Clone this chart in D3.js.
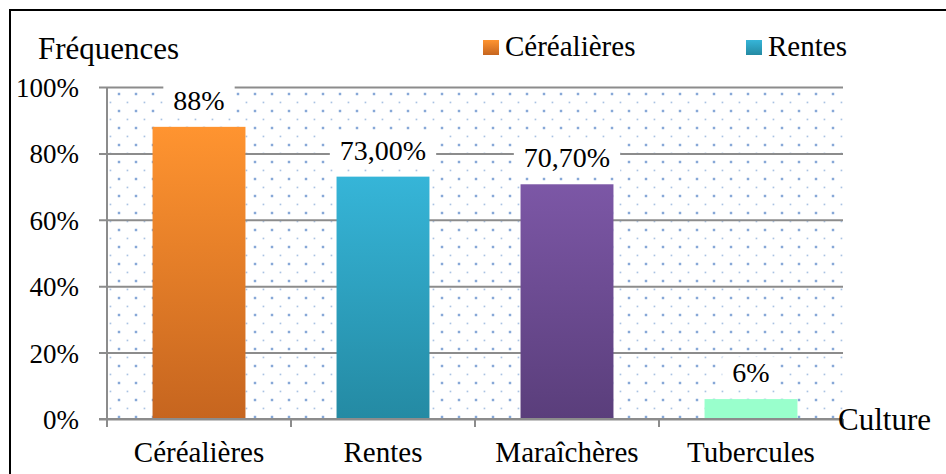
<!DOCTYPE html>
<html>
<head>
    <meta charset="utf-8">
    <title>Fréquences par culture</title>
    <script src="https://d3js.org/d3.v7.min.js"></script>
    <style>
        body { margin: 0; background: #fff; }
        text { font-family: "Liberation Serif", "Times New Roman", serif; fill: #000; }
    </style>
</head>
<body>
    <script>
        // donnees
        var categories = ["Céréalières", "Rentes", "Maraîchères", "Tubercules"];
        var valeurs = [0.88, 0.73, 0.707, 0.06];
        var etiquettes = ["88%", "73,00%", "70,70%", "6%"];
        var yTicks = [0, 0.2, 0.4, 0.6, 0.8, 1];
        var legende = ["Céréalières", "Rentes"];

        var couleurs = [
            ["#ff9430", "#c6651f"],
            ["#36b5d8", "#248aa3"],
            ["#7c57a6", "#5a3e7b"],
            ["#99ffcc", "#99ffcc"]
        ];

        var width = 946;
        var height = 474;
        var zone = { gauche: 107, droite: 843, haut: 87, bas: 419 };

        var svg = d3.select("body").append("svg")
            .attr("width", width)
            .attr("height", height);

        var defs = svg.append("defs");

        couleurs.forEach(function(c, i) {
            var g = defs.append("linearGradient")
                .attr("id", "grad" + i)
                .attr("x1", 0).attr("y1", 0)
                .attr("x2", 0).attr("y2", 1);
            g.append("stop").attr("offset", "0%").attr("stop-color", c[0]);
            g.append("stop").attr("offset", "100%").attr("stop-color", c[1]);
        });

        // motif de points bleus de la zone de tracé
        var motif = defs.append("pattern")
            .attr("id", "points")
            .attr("patternUnits", "userSpaceOnUse")
            .attr("x", 4.25).attr("y", -3.75)
            .attr("width", 17).attr("height", 17);
        motif.append("rect")
            .attr("x", 3.6).attr("y", 3.6)
            .attr("width", 1.3).attr("height", 1.3)
            .attr("fill", "#6f98cf");
        motif.append("rect")
            .attr("x", 11.75).attr("y", 11.75)
            .attr("width", 2).attr("height", 2)
            .attr("fill", "#4a7cc2");

        // cadre noir
        svg.append("rect")
            .attr("x", 10).attr("y", 10)
            .attr("width", 960).attr("height", 480)
            .attr("fill", "none")
            .attr("stroke", "#000")
            .attr("stroke-width", 2);

        var x = d3.scaleBand()
            .domain(categories)
            .range([zone.gauche, zone.droite])
            .paddingInner(0.495)
            .paddingOuter(0.2475);

        var y = d3.scaleLinear()
            .domain([0, 1])
            .range([zone.bas, zone.haut]);

        svg.append("rect")
            .attr("x", zone.gauche).attr("y", zone.haut)
            .attr("width", zone.droite - zone.gauche).attr("height", zone.bas - zone.haut)
            .attr("fill", "url(#points)");

        // grille et axe vertical
        var axeY = svg.append("g")
            .attr("transform", "translate(" + zone.gauche + ",0)")
            .call(d3.axisLeft(y)
                .tickValues(yTicks)
                .tickFormat(d3.format(".0%"))
                .tickSize(-(zone.droite - zone.gauche))
                .tickPadding(28));
        axeY.select(".domain").remove();
        axeY.selectAll("line")
            .attr("x1", -8)
            .attr("stroke", "#8c8c8c")
            .attr("stroke-width", 2);
        axeY.selectAll("text")
            .attr("dy", "0.35em")
            .style("font-size", "27px");

        svg.append("line")
            .attr("x1", zone.gauche).attr("x2", zone.gauche)
            .attr("y1", zone.haut).attr("y2", zone.bas + 8)
            .attr("stroke", "#8c8c8c")
            .attr("stroke-width", 2);

        // graduations entre les catégories
        var bornes = d3.range(categories.length + 1).map(function(i) {
            return zone.gauche + i * x.step();
        });
        svg.selectAll("line.borne")
            .data(bornes.slice(1))
            .enter()
            .append("line")
            .attr("class", "borne")
            .attr("x1", function(d) { return d; })
            .attr("x2", function(d) { return d; })
            .attr("y1", zone.bas).attr("y2", zone.bas + 8)
            .attr("stroke", "#8c8c8c")
            .attr("stroke-width", 2);

        // barres
        svg.selectAll("rect.barre")
            .data(valeurs)
            .enter()
            .append("rect")
            .attr("class", "barre")
            .attr("x", function(d, i) { return x(categories[i]); })
            .attr("y", function(d) { return y(d); })
            .attr("width", x.bandwidth())
            .attr("height", function(d) { return y(0) - y(d); })
            .attr("fill", function(d, i) { return "url(#grad" + i + ")"; });

        // étiquettes de valeurs avec fond blanc
        var etiq = svg.selectAll("g.etiq")
            .data(valeurs)
            .enter()
            .append("g")
            .attr("class", "etiq");
        etiq.append("text")
            .attr("x", function(d, i) { return x(categories[i]) + x.bandwidth() / 2; })
            .attr("y", function(d) { return y(d) - 17; })
            .attr("text-anchor", "middle")
            .style("font-size", "28px")
            .text(function(d, i) { return etiquettes[i]; });
        etiq.each(function() {
            var t = d3.select(this).select("text");
            var b = t.node().getBBox();
            d3.select(this).insert("rect", "text")
                .attr("x", b.x - 10).attr("y", b.y)
                .attr("width", b.width + 20).attr("height", b.height)
                .attr("fill", "#fff");
        });

        // axe horizontal
        var axeX = svg.append("g")
            .attr("transform", "translate(0," + zone.bas + ")")
            .call(d3.axisBottom(x).tickSize(0).tickPadding(22));
        axeX.select(".domain").remove();
        axeX.selectAll("text").style("font-size", "29px");

        svg.append("line")
            .attr("x1", zone.gauche - 8).attr("x2", zone.droite)
            .attr("y1", zone.bas).attr("y2", zone.bas)
            .attr("stroke", "#8c8c8c")
            .attr("stroke-width", 2);

        // titres des axes
        svg.append("text")
            .attr("x", 38).attr("y", 59)
            .style("font-size", "31px")
            .text("Fréquences");
        svg.append("text")
            .attr("x", 838).attr("y", 430)
            .style("font-size", "31px")
            .text("Culture");

        // légende
        var posLegende = [483, 746];
        var leg = svg.selectAll("g.legende")
            .data(legende)
            .enter()
            .append("g")
            .attr("class", "legende")
            .attr("transform", function(d, i) { return "translate(" + posLegende[i] + ",40)"; });
        leg.append("rect")
            .attr("width", 16).attr("height", 15)
            .attr("fill", function(d, i) { return "url(#grad" + i + ")"; });
        leg.append("text")
            .attr("x", 22).attr("y", 16)
            .style("font-size", "29px")
            .text(function(d) { return d; });
    </script>
</body>
</html>
